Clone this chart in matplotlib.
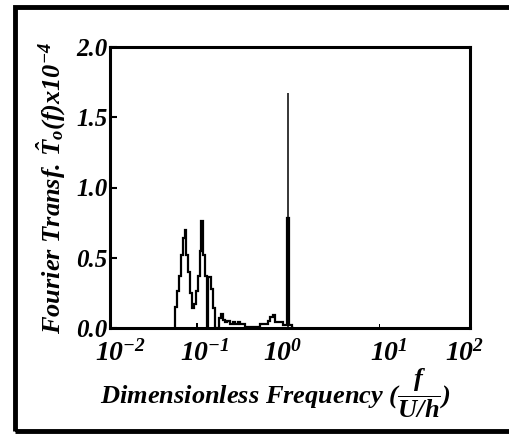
import matplotlib
matplotlib.use("Agg")
import matplotlib.pyplot as plt
import matplotlib.transforms as mtransforms
from matplotlib.patches import Rectangle
import numpy as np

plt.rcParams['font.family'] = ['Liberation Serif', 'DejaVu Serif']
plt.rcParams['mathtext.fontset'] = 'custom'
plt.rcParams['mathtext.it'] = 'Liberation Serif:italic:bold'
plt.rcParams['mathtext.rm'] = 'Liberation Serif:italic:bold'
plt.rcParams['mathtext.bf'] = 'Liberation Serif:italic:bold'
plt.rcParams['mathtext.default'] = 'it'

# espectro principal (bordes de los escalones y amplitudes)
freq_edges = [0.0527, 0.0556, 0.0586, 0.0618, 0.0648, 0.0673, 0.0699, 0.0735,
              0.0774, 0.0815, 0.0858, 0.0903, 0.0950, 0.1000, 0.1039, 0.1080,
              0.1136, 0.1197, 0.1230, 0.1290, 0.1326, 0.1395, 0.1450, 0.1540,
              0.1620, 0.1700, 0.1800, 0.1900, 0.2000, 0.2150, 0.2300, 0.2450,
              0.2620, 0.2780, 0.3160, 0.3600, 0.4300, 0.4650, 0.5270, 0.5750,
              0.6000, 0.6500, 0.6810, 0.7750, 0.8400, 0.8800, 0.9180, 0.9760,
              1.0000, 1.0500, 1.1000]
amplitude = [0.15, 0.26, 0.37, 0.52, 0.64, 0.70, 0.52, 0.40,
             0.25, 0.14, 0.17, 0.26, 0.37, 0.55, 0.76, 0.52,
             0.37, 0.0, 0.36, 0.36, 0.28, 0.14, 0.0, 0.0,
             0.07, 0.10, 0.06, 0.04, 0.05, 0.03, 0.04, 0.03,
             0.04, 0.03, 0.01, 0.01, 0.01, 0.03, 0.03, 0.05,
             0.08, 0.09, 0.04, 0.04, 0.02, 0.02, 0.78, 0.02,
             0.02, 0.0]

# pico principal
peak_freq = [0.948]
peak_amp = [1.67]

# pequeños picos sueltos
blip_freq = [0.093, 9.9]
blip_amp = [0.035, 0.03]

xtick_pos = [1e-2, 1e-1, 1e0, 1e1, 1e2]
xtick_labels = [r'$10^{-2}$', r'$10^{-1}$', r'$10^{0}$', r'$10^{1}$', r'$10^{2}$']
ytick_pos = [0.0, 0.5, 1.0, 1.5, 2.0]
ytick_labels = ['0.0', '0.5', '1.0', '1.5', '2.0']

fig = plt.figure(figsize=(5.10, 4.34), dpi=100)
ax = fig.add_axes([110/510, 106/434, 360/510, 281/434])

ax.stairs(amplitude, freq_edges, color='black', linewidth=1.6, baseline=0)
ax.vlines(peak_freq, 0, peak_amp, color='black', linewidth=1.1)
for f, a in zip(blip_freq, blip_amp):
    ax.bar(f, a, width=f*0.04, color='black', align='center')

ax.set_xscale('log')
ax.set_xlim(1e-2, 1e2)
ax.set_ylim(0, 2.0)
ax.set_xticks(xtick_pos)
ax.set_xticklabels(xtick_labels, fontsize=20)
ax.minorticks_off()
ax.set_yticks(ytick_pos)
ax.set_yticklabels(ytick_labels, fontsize=18, fontweight='bold', fontstyle='italic')
ax.tick_params(axis='x', length=0, pad=9)
ax.tick_params(axis='y', direction='in', length=5, width=1.5, pad=2)
for sp in ax.spines.values():
    sp.set_linewidth(2.2)

# las etiquetas del eje x estan algo desplazadas en el original (px)
shift_px = [11, 5, -7, 9, -5]
for lab, dx in zip(ax.get_xticklabels(), shift_px):
    off = mtransforms.ScaledTranslation(dx / 100, 0, fig.dpi_scale_trans)
    lab.set_transform(lab.get_transform() + off)

ax.set_xlabel(r'Dimensionless Frequency ($\dfrac{f}{U/h}$)', fontsize=19,
              fontweight='bold', fontstyle='italic', labelpad=0)
ax.xaxis.label.set_x(0.46)
ax.set_ylabel(r'Fourier Transf. $\hat{T}_o(f)$x10$^{-4}$', fontsize=19,
              fontweight='bold', fontstyle='italic', labelpad=6)

# marco exterior
fig.patches.append(Rectangle((15/510, 3/434), 1.2, 424/434, transform=fig.transFigure,
                             fill=False, edgecolor='black', linewidth=3.5))

fig.savefig('out.png', dpi=100)
